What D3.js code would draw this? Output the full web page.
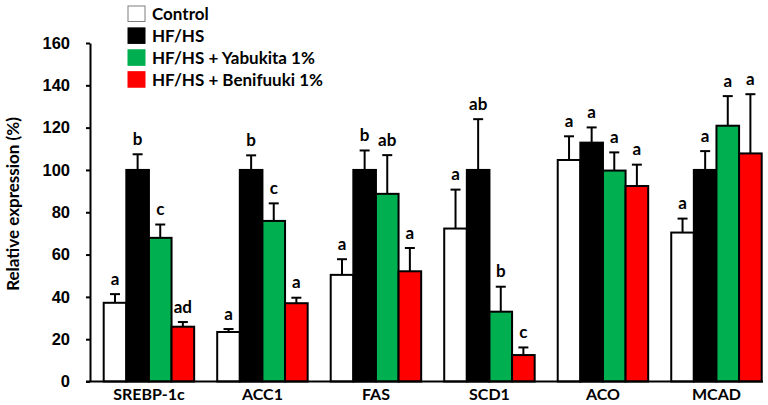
<!DOCTYPE html>
<html><head><meta charset="utf-8">
<script src="https://cdn.jsdelivr.net/npm/d3@7"></script>
<style>body{margin:0;background:#fff}svg{display:block}</style>
</head><body>
<svg id="c" width="768" height="405"></svg>
<script>
const categories = ["SREBP-1c","ACC1","FAS","SCD1","ACO","MCAD"];
const seriesNames = ["Control","HF/HS","HF/HS + Yabukita 1%","HF/HS + Benifuuki 1%"];
const seriesColors = ["#ffffff","#000000","#00b050","#ff0000"];
const controlMean = [37.2, 23.4, 50.4, 72.3, 104.7, 70.4];
const controlErrTop = [41.3, 24.8, 57.8, 90.7, 115.9, 77.0];
const controlLetters = ["a","a","a","a","a","a"];
const hfhsMean = [100, 100, 100, 100, 112.9, 100];
const hfhsErrTop = [107.4, 106.9, 109.2, 124.0, 120.1, 108.9];
const hfhsLetters = ["b","b","b","ab","a","a"];
const yabukitaMean = [67.9, 75.9, 88.7, 33.0, 99.7, 120.9];
const yabukitaErrTop = [74.2, 84.2, 107.0, 44.8, 108.3, 134.9];
const yabukitaLetters = ["c","c","ab","b","a","a"];
const benifuukiMean = [25.9, 37.0, 52.1, 12.5, 92.4, 107.8];
const benifuukiErrTop = [28.1, 39.6, 63.1, 16.1, 102.5, 135.8];
const benifuukiLetters = ["ad","a","a","c","a","a"];
const yTicks = [0,20,40,60,80,100,120,140,160];

const means = [controlMean, hfhsMean, yabukitaMean, benifuukiMean];
const errs = [controlErrTop, hfhsErrTop, yabukitaErrTop, benifuukiErrTop];
const letters = [controlLetters, hfhsLetters, yabukitaLetters, benifuukiLetters];

const svg = d3.select("#c");
const y = d3.scaleLinear().domain([0,160]).range([381.5, 43]);
const x0 = d3.scaleBand().domain(categories).range([103.7, 761.7]).paddingInner(0.203).paddingOuter(0);
const x1 = d3.scaleBand().domain(d3.range(4)).range([0, x0.bandwidth()]).padding(0);
const axisX = 90, axisRight = 763;
const FONT = "Lato, 'Open Sans', sans-serif";

const rows = [];
categories.forEach((c,i)=>{ for(let s=0;s<4;s++) rows.push({c, s, v:means[s][i], e:errs[s][i], l:letters[s][i]}); });

const g = svg.append("g");
g.selectAll("line.err").data(rows).join("line")
  .attr("x1", d=>x0(d.c)+x1(d.s)+x1.bandwidth()/2).attr("x2", d=>x0(d.c)+x1(d.s)+x1.bandwidth()/2)
  .attr("y1", d=>y(d.v)).attr("y2", d=>y(d.e)).attr("stroke","#000").attr("stroke-width",2);
g.selectAll("line.cap").data(rows).join("line")
  .attr("x1", d=>x0(d.c)+x1(d.s)+x1.bandwidth()/2-5).attr("x2", d=>x0(d.c)+x1(d.s)+x1.bandwidth()/2+5)
  .attr("y1", d=>y(d.e)).attr("y2", d=>y(d.e)).attr("stroke","#000").attr("stroke-width",2);
g.selectAll("rect.bar").data(rows).join("rect")
  .attr("x", d=>x0(d.c)+x1(d.s)).attr("width", x1.bandwidth())
  .attr("y", d=>y(d.v)).attr("height", d=>y(0)-y(d.v))
  .attr("fill", d=>seriesColors[d.s]).attr("stroke","#000").attr("stroke-width",2);
g.selectAll("text.let").data(rows).join("text")
  .attr("x", d=>x0(d.c)+x1(d.s)+x1.bandwidth()/2).attr("y", d=>y(d.e)-9.5)
  .attr("text-anchor","middle").attr("font-family",FONT).attr("font-weight","bold")
  .attr("font-size","17px").attr("fill","#000").text(d=>d.l);

const yAxis = d3.axisLeft(y).tickValues(yTicks).tickSize(4).tickPadding(16).tickSizeOuter(0);
const ya = svg.append("g").attr("transform",`translate(${axisX},0)`).call(yAxis);
ya.select(".domain").attr("stroke","#000").attr("stroke-width",2);
ya.selectAll(".tick line").attr("stroke","#000").attr("stroke-width",2);
ya.selectAll(".tick text").attr("font-family","'Liberation Sans', Arial, sans-serif")
  .attr("font-weight","bold").attr("font-size","16.5px").attr("fill","#000");

const xAxis = d3.axisBottom(x0).tickSize(0).tickPadding(7);
const xa = svg.append("g").attr("transform",`translate(0,${y(0)})`).call(xAxis);
xa.select(".domain").remove();
xa.selectAll(".tick text").attr("font-family",FONT).attr("font-weight","bold")
  .attr("font-size","16px").attr("fill","#000").attr("dy","0.71em");
svg.append("line").attr("x1",axisX-4).attr("x2",axisRight).attr("y1",y(0)).attr("y2",y(0))
  .attr("stroke","#000").attr("stroke-width",2);

svg.append("text").attr("transform","translate(19,204) rotate(-90)")
  .attr("text-anchor","middle").attr("font-family",FONT).attr("font-weight","bold")
  .attr("font-size","17px").attr("fill","#000").text("Relative expression (%)");

const lg = svg.append("g");
seriesNames.forEach((n,i)=>{
  const base = 20 + i*21.9;
  lg.append("rect").attr("x",128).attr("y",base-14).attr("width",17).attr("height",15.5)
    .attr("fill",seriesColors[i]).attr("stroke", i===0?"#7f7f7f":seriesColors[i]).attr("stroke-width",1);
  lg.append("text").attr("x",152).attr("y",base).attr("font-family",FONT).attr("font-weight","bold")
    .attr("font-size","17px").attr("fill","#000").text(n);
});
</script>
</body></html>
